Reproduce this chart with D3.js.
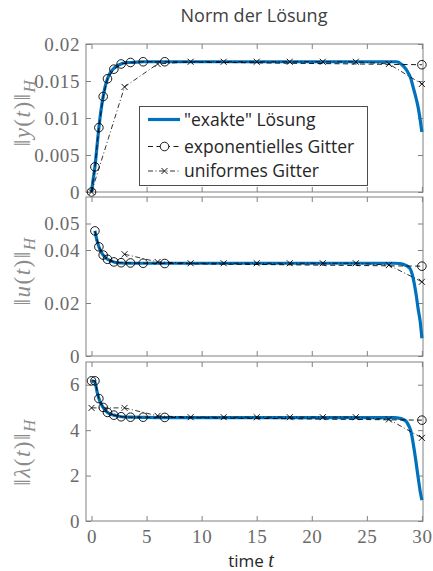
<!DOCTYPE html>
<html>
<head>
<meta charset="utf-8">
<script src="https://cdn.jsdelivr.net/npm/d3@7"></script>
<style>
  body { margin: 0; background: #fff; }
  svg { display: block; }
</style>
</head>
<body>
<div id="chart"></div>
<script>
// exakte Loesung (dicht abgetastet)
const tExact = [0, 0.15, 0.31, 0.5, 0.67, 0.85, 1.06, 1.25, 1.45, 1.7, 2.03, 2.4, 2.69, 3.1, 3.54, 4.69, 6.65, 10, 15, 20, 25, 27, 27.7, 28.2, 28.6, 29.0, 29.2, 29.5, 29.65, 29.85, 30];
const yExact = [0, 0.0017, 0.0034, 0.0062, 0.0087, 0.0109, 0.0129, 0.0143, 0.0153, 0.0161, 0.0167, 0.0171, 0.0173, 0.0175, 0.0175, 0.0176, 0.0176, 0.0176, 0.0176, 0.0176, 0.0176, 0.0176, 0.0176, 0.0172, 0.0165, 0.0153, 0.0142, 0.0125, 0.0115, 0.0097, 0.0081];

const tExactU = [0.31, 0.5, 0.67, 0.85, 1.06, 1.25, 1.45, 1.7, 2.03, 2.4, 2.69, 3.54, 4.69, 6.65, 10, 15, 20, 25, 27.5, 28.0, 28.3, 28.9, 29.2, 29.5, 29.65, 29.86, 30];
const uExact = [0.0472, 0.0435, 0.0412, 0.0394, 0.0381, 0.0372, 0.0365, 0.036, 0.0355, 0.0352, 0.0351, 0.035, 0.035, 0.035, 0.035, 0.035, 0.035, 0.035, 0.035, 0.0349, 0.0346, 0.0331, 0.0295, 0.0225, 0.018, 0.0125, 0.0067];

const tExactL = [0, 0.31, 0.5, 0.67, 0.85, 1.06, 1.25, 1.45, 1.7, 2.03, 2.4, 2.69, 3.54, 4.69, 6.65, 10, 15, 20, 25, 27.5, 28.0, 28.3, 28.6, 29.05, 29.35, 29.65, 29.87, 30];
const lExact = [6.17, 6.12, 5.7, 5.39, 5.17, 5.0, 4.88, 4.78, 4.71, 4.66, 4.62, 4.59, 4.57, 4.56, 4.55, 4.55, 4.55, 4.55, 4.55, 4.55, 4.52, 4.47, 4.37, 3.85, 2.98, 1.95, 1.23, 0.92];

// exponentielles Gitter
const tExp = [0, 0.31, 0.67, 1.06, 1.45, 2.03, 2.69, 3.54, 4.69, 6.65, 30];
const yExp = [0, 0.0034, 0.0087, 0.0129, 0.0153, 0.0166, 0.0173, 0.0175, 0.0176, 0.0176, 0.0172];
const uExp = [null, 0.0472, 0.0412, 0.0381, 0.0365, 0.0355, 0.0352, 0.0351, 0.035, 0.0349, 0.0339];
const lExp = [6.17, 6.17, 5.39, 5.0, 4.78, 4.66, 4.59, 4.57, 4.57, 4.56, 4.44];

// uniformes Gitter
const tUni = [0, 3, 6, 9, 12, 15, 18, 21, 24, 27, 30];
const yUni = [0, 0.0142, 0.0173, 0.0176, 0.0176, 0.0176, 0.0176, 0.0176, 0.0176, 0.0173, 0.0146];
const uUni = [null, 0.0384, 0.0355, 0.035, 0.035, 0.035, 0.035, 0.035, 0.035, 0.0343, 0.028];
const lUni = [4.98, 4.98, 4.63, 4.57, 4.57, 4.57, 4.57, 4.57, 4.57, 4.47, 3.66];

const xTicks = [0, 5, 10, 15, 20, 25, 30];
const yTicksY = [0, 0.005, 0.01, 0.015, 0.02];
const yTicksU = [0, 0.02, 0.04, 0.05];
const yTicksL = [0, 2, 4, 6];

const legendLabels = ['"exakte" Lösung', "exponentielles Gitter", "uniformes Gitter"];

const W = 433, H = 571;
const left = 86, right = 423;
const blue = "#0072bd";
const frameColor = "#808080";
const tickLabelColor = "#6a6a6a";
const labelColor = "#8c8c8c";
const serif = "'Liberation Serif', 'DejaVu Serif', serif";
const sans = "'Open Sans', sans-serif";

const svg = d3.select("#chart").append("svg")
    .attr("width", W)
    .attr("height", H);

const x = d3.scaleLinear().domain([-0.5, 30.1]).range([left, right]);

const panels = [
    { top: 44, bottom: 192, domain: [0, 0.02], ticks: yTicksY, name: "y", labelY: 112.5,
      exact: [tExact, yExact], exp: yExp, uni: yUni },
    { top: 197, bottom: 356, domain: [0, 0.06], ticks: yTicksU, name: "u", labelY: 271,
      exact: [tExactU, uExact], exp: uExp, uni: uUni },
    { top: 362, bottom: 521, domain: [0, 7], ticks: yTicksL, name: "λ", labelY: 452,
      exact: [tExactL, lExact], exp: lExp, uni: lUni }
];

panels.forEach((p, i) => {
    const y = d3.scaleLinear().domain(p.domain).range([p.bottom, p.top]);
    const g = svg.append("g");

    // Achsen mit Ticks nach innen
    const axL = g.append("g").attr("transform", `translate(${left},0)`)
        .call(d3.axisLeft(y).tickValues(p.ticks).tickSize(-5).tickPadding(6).tickFormat(d => d));
    const axR = g.append("g").attr("transform", `translate(${right},0)`)
        .call(d3.axisRight(y).tickValues(p.ticks).tickSize(-5).tickFormat(""));
    const axT = g.append("g").attr("transform", `translate(0,${p.top})`)
        .call(d3.axisTop(x).tickValues(xTicks).tickSize(-5).tickFormat(""));
    const axB = g.append("g").attr("transform", `translate(0,${p.bottom})`)
        .call(d3.axisBottom(x).tickValues(xTicks).tickSize(-5).tickPadding(9)
            .tickFormat(i === 2 ? (d => d) : ""));

    [axL, axR, axT, axB].forEach(a => {
        a.select(".domain").remove();
        a.selectAll(".tick line").attr("stroke", frameColor);
        a.selectAll("text")
            .attr("fill", tickLabelColor)
            .style("font-family", serif)
            .style("font-size", "19px")
            .style("letter-spacing", "0.6px");
    });

    g.append("rect")
        .attr("x", left).attr("y", p.top)
        .attr("width", right - left).attr("height", p.bottom - p.top)
        .attr("fill", "none").attr("stroke", frameColor).attr("stroke-width", 1);

    // exakte Loesung
    const exactPts = p.exact[0].map((t, k) => [t, p.exact[1][k]]);
    g.append("path")
        .datum(exactPts)
        .attr("fill", "none")
        .attr("stroke", blue)
        .attr("stroke-width", 3.2)
        .attr("d", d3.line().x(d => x(d[0])).y(d => y(d[1])).curve(d3.curveMonotoneX));

    // exponentielles Gitter
    const expPts = tExp.map((t, k) => [t, p.exp[k]]).filter(d => d[1] != null);
    g.append("path")
        .datum(expPts)
        .attr("fill", "none")
        .attr("stroke", "#000")
        .attr("stroke-width", 0.9)
        .attr("stroke-dasharray", "5,3.5")
        .attr("d", d3.line().x(d => x(d[0])).y(d => y(d[1])));

    // uniformes Gitter
    const uniPts = tUni.map((t, k) => [t, p.uni[k]]).filter(d => d[1] != null);
    g.append("path")
        .datum(uniPts)
        .attr("fill", "none")
        .attr("stroke", "#000")
        .attr("stroke-width", 0.8)
        .attr("stroke-dasharray", "5,2.5,1,2.5")
        .attr("d", d3.line().x(d => x(d[0])).y(d => y(d[1])));

    g.selectAll(".circ")
        .data(expPts)
        .enter().append("circle")
            .attr("cx", d => x(d[0]))
            .attr("cy", d => y(d[1]))
            .attr("r", 4.3)
            .attr("fill", "none")
            .attr("stroke", "#000")
            .attr("stroke-width", 0.9);

    g.selectAll(".cross")
        .data(uniPts)
        .enter().append("path")
            .attr("transform", d => `translate(${x(d[0])},${y(d[1])})`)
            .attr("d", "M-3,-3L3,3M-3,3L3,-3")
            .attr("stroke", "#000")
            .attr("stroke-width", 0.9);

    // y-Achsenbeschriftung  ||y(t)||_H
    const lab = svg.append("text")
        .attr("transform", `translate(30,${p.labelY}) rotate(-90)`)
        .attr("text-anchor", "middle")
        .attr("fill", labelColor)
        .style("font-family", serif)
        .style("font-size", "23px")
        .style("letter-spacing", "1.5px");
    lab.append("tspan").text("‖");
    lab.append("tspan").style("font-style", "italic").text(p.name);
    lab.append("tspan").text("(");
    lab.append("tspan").style("font-style", "italic").text("t");
    lab.append("tspan").text(")‖");
    lab.append("tspan").attr("dy", 5).style("font-style", "italic").style("font-size", "17px").text("H");
});

// Titel
svg.append("text")
    .attr("x", 254).attr("y", 22)
    .attr("text-anchor", "middle")
    .attr("fill", "#404040")
    .style("font-family", sans)
    .style("font-size", "18px")
    .text("Norm der Lösung");

// x-Achsenbeschriftung
const xl = svg.append("text")
    .attr("x", 251).attr("y", 567)
    .attr("text-anchor", "middle")
    .attr("fill", "#262626")
    .style("font-family", sans)
    .style("font-size", "17px");
xl.append("tspan").text("time ");
xl.append("tspan").style("font-family", serif).style("font-style", "italic").style("font-size", "20px").text("t");

// Legende
const leg = svg.append("g");
leg.append("rect")
    .attr("x", 139.5).attr("y", 106.5)
    .attr("width", 228).attr("height", 79)
    .attr("fill", "#fff").attr("stroke", "#4d4d4d").attr("stroke-width", 1);

const rowsY = [119.5, 146.5, 171];
leg.append("line")
    .attr("x1", 148).attr("x2", 180).attr("y1", rowsY[0]).attr("y2", rowsY[0])
    .attr("stroke", blue).attr("stroke-width", 3.2);
leg.append("line")
    .attr("x1", 148).attr("x2", 180).attr("y1", rowsY[1]).attr("y2", rowsY[1])
    .attr("stroke", "#000").attr("stroke-width", 0.9).attr("stroke-dasharray", "5,3.5");
leg.append("circle")
    .attr("cx", 164.5).attr("cy", rowsY[1]).attr("r", 4.3)
    .attr("fill", "#fff").attr("stroke", "#000").attr("stroke-width", 0.9);
leg.append("line")
    .attr("x1", 148).attr("x2", 180).attr("y1", rowsY[2]).attr("y2", rowsY[2])
    .attr("stroke", "#000").attr("stroke-width", 0.8).attr("stroke-dasharray", "5,2.5,1,2.5");
leg.append("path")
    .attr("transform", `translate(164.5,${rowsY[2]})`)
    .attr("d", "M-3,-3L3,3M-3,3L3,-3")
    .attr("stroke", "#000").attr("stroke-width", 0.9);

leg.selectAll(".lt")
    .data(legendLabels)
    .enter().append("text")
        .attr("x", 184)
        .attr("y", (d, k) => rowsY[k] + 6)
        .attr("fill", "#262626")
        .style("font-family", sans)
        .style("font-size", "17.5px")
        .text(d => d);
</script>
</body>
</html>
